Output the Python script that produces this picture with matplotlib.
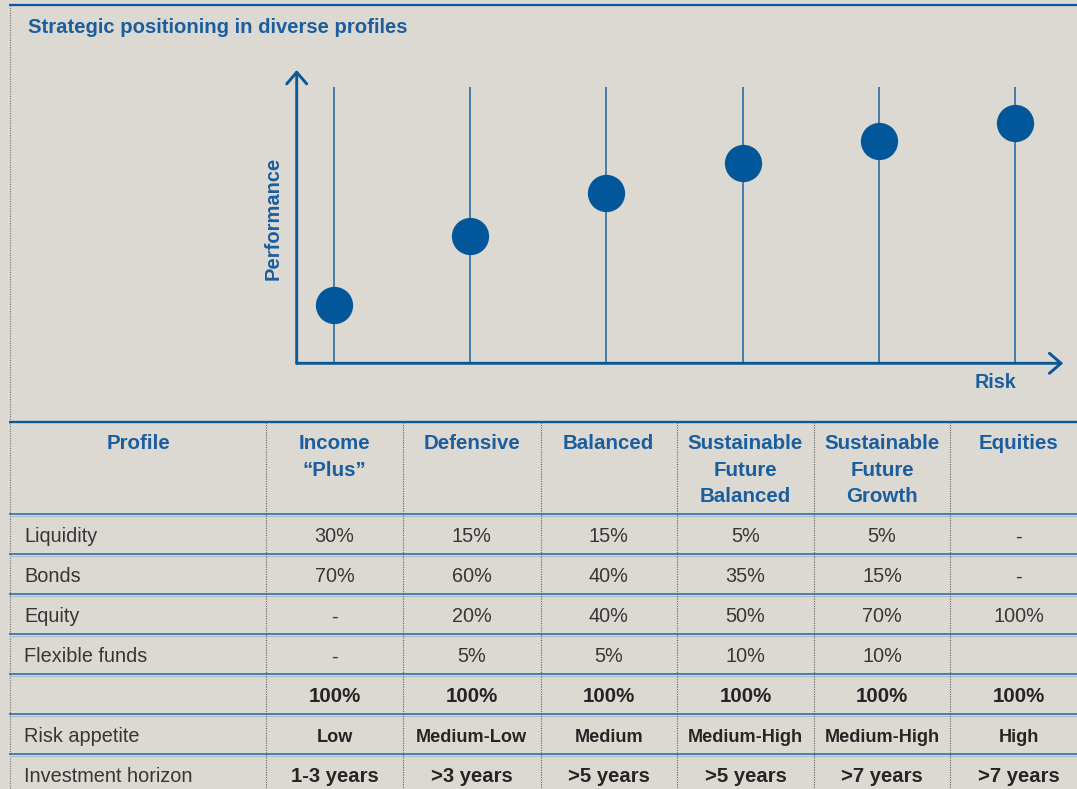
import matplotlib
matplotlib.use("Agg")
import matplotlib.pyplot as plt

# ---------------- data ----------------
title = "Strategic positioning in diverse profiles"
profiles = ["Income\n\u201cPlus\u201d", "Defensive", "Balanced",
            "Sustainable\nFuture\nBalanced", "Sustainable\nFuture\nGrowth", "Equities"]
performance = [21, 46, 61.5, 72.5, 80.5, 87]   # relative performance (arbitrary scale 0-100)
stem_top = 100

row_labels = ["Liquidity", "Bonds", "Equity", "Flexible funds", "", "Risk appetite", "Investment horizon"]
liquidity = ["30%", "15%", "15%", "5%", "5%", "-"]
bonds = ["70%", "60%", "40%", "35%", "15%", "-"]
equity = ["-", "20%", "40%", "50%", "70%", "100%"]
flexible = ["-", "5%", "5%", "10%", "10%", ""]
totals = ["100%", "100%", "100%", "100%", "100%", "100%"]
risk_appetite = ["Low", "Medium-Low", "Medium", "Medium-High", "Medium-High", "High"]
horizon = ["1-3 years", ">3 years", ">5 years", ">5 years", ">7 years", ">7 years"]

# ---------------- style ----------------
W, H = 1077, 789
BG = "#DCD9D3"
BLUE = "#0A5898"
DOT = "#02569A"
HBLUE = "#1B5E9E"
TXT = "#363636"
BTXT = "#252525"
plt.rcParams["font.family"] = ["Liberation Sans", "DejaVu Sans"]

fig = plt.figure(figsize=(W / 100, H / 100), dpi=100, facecolor=BG)

# overlay axes in pixel coordinates for frame + table
ax_t = fig.add_axes([0, 0, 1, 1])
ax_t.set_xlim(0, W)
ax_t.set_ylim(H, 0)
ax_t.axis("off")
ax_t.patch.set_alpha(0)

# outer frame: top blue line, left dotted border
ax_t.hlines(5, 9, W, color=BLUE, lw=1.6)
ax_t.vlines(9.5, 5, H, color="#6f6f6f", lw=0.8, linestyles=(0, (1, 1.2)))

# title
ax_t.text(28, 33, title, color=HBLUE, fontsize=14.6, fontweight="bold",
          ha="left", va="baseline")

# ---------------- table ----------------
col_edges = [9, 266, 403, 540.5, 677, 814, 950, 1087]
centers = [(col_edges[i] + col_edges[i + 1]) / 2 for i in range(len(col_edges) - 1)]
table_top = 421.5
row_lines = [514.3 + 40 * k for k in range(7)]

ax_t.hlines(table_top, 9, W, color=BLUE, lw=1.7)
for y in row_lines:
    ax_t.hlines(y, 9, W, color="#2465A5", lw=1.1)
    ax_t.hlines(y + 1.4, 9, W, color="#AFBDCA", lw=0.8)
for x in col_edges[1:-1]:
    ax_t.vlines(x, table_top, H, color="#5f5f5f", lw=0.8, linestyles=(0, (1, 1.2)))

# header
hdr_base = [449.3, 475.6, 501.9]
ax_t.text(centers[0] + 1, hdr_base[0], "Profile", color=HBLUE, fontsize=14.8,
          fontweight="bold", ha="center", va="baseline")
for i, p in enumerate(profiles):
    for j, line in enumerate(p.split("\n")):
        ax_t.text(centers[i + 1], hdr_base[j], line, color=HBLUE, fontsize=14.8,
                  fontweight="bold", ha="center", va="baseline")

rows = [liquidity, bonds, equity, flexible, totals, risk_appetite, horizon]
row_style = [("normal", 14.3, TXT)] * 4 + [("bold", 14.8, BTXT), ("bold", 13.1, BTXT), ("bold", 14.6, BTXT)]
for r, (label, vals) in enumerate(zip(row_labels, rows)):
    yb = 542.3 + 40 * r
    ax_t.text(24.5, yb, label, color=TXT, fontsize=14.3, ha="left", va="baseline")
    w, fs, c = row_style[r]
    for i, v in enumerate(vals):
        ax_t.text(centers[i + 1], yb, v, color=c, fontsize=fs, fontweight=w,
                  ha="center", va="baseline")

# ---------------- chart ----------------
x_left, x_right = 296.7, 1063.3
y_bot, y_top = 363.3, 70.0
ax = fig.add_axes([x_left / W, 1 - y_bot / H, (x_right - x_left) / W, (y_bot - y_top) / H])
ax.patch.set_alpha(0)
px_per_cat = 136.2
ax.set_xlim((x_left - 334) / px_per_cat, (x_right - 334) / px_per_cat)
px_per_unit = (y_bot - 87) / stem_top
ax.set_ylim(0, (y_bot - y_top) / px_per_unit)
for s in ax.spines.values():
    s.set_visible(False)
ax.set_xticks([])
ax.set_yticks([])

xs = list(range(len(performance)))
ax.vlines(xs, 0, stem_top, color="#1F62A3", lw=1.1, zorder=1)
ax.scatter(xs, performance, s=720, color=DOT, zorder=3, linewidths=0)

arrow = dict(arrowstyle="->,head_length=0.42,head_width=0.36", color=BLUE, lw=2.1,
             mutation_scale=20, shrinkA=0, shrinkB=0)
ax.annotate("", xy=(0, 1), xytext=(0, 0), xycoords="axes fraction",
            textcoords="axes fraction", arrowprops=arrow)
ax.annotate("", xy=(1, 0), xytext=(0, 0), xycoords="axes fraction",
            textcoords="axes fraction", arrowprops=arrow)

ax_t.text(283, 218, "Performance", color=HBLUE, fontsize=14.5, fontweight="bold",
          rotation=90, ha="right", va="center")
ax_t.text(995.5, 388.3, "Risk", color=HBLUE, fontsize=14.2, fontweight="bold",
          ha="center", va="baseline")

fig.savefig("out.png", dpi=100, facecolor=BG)
